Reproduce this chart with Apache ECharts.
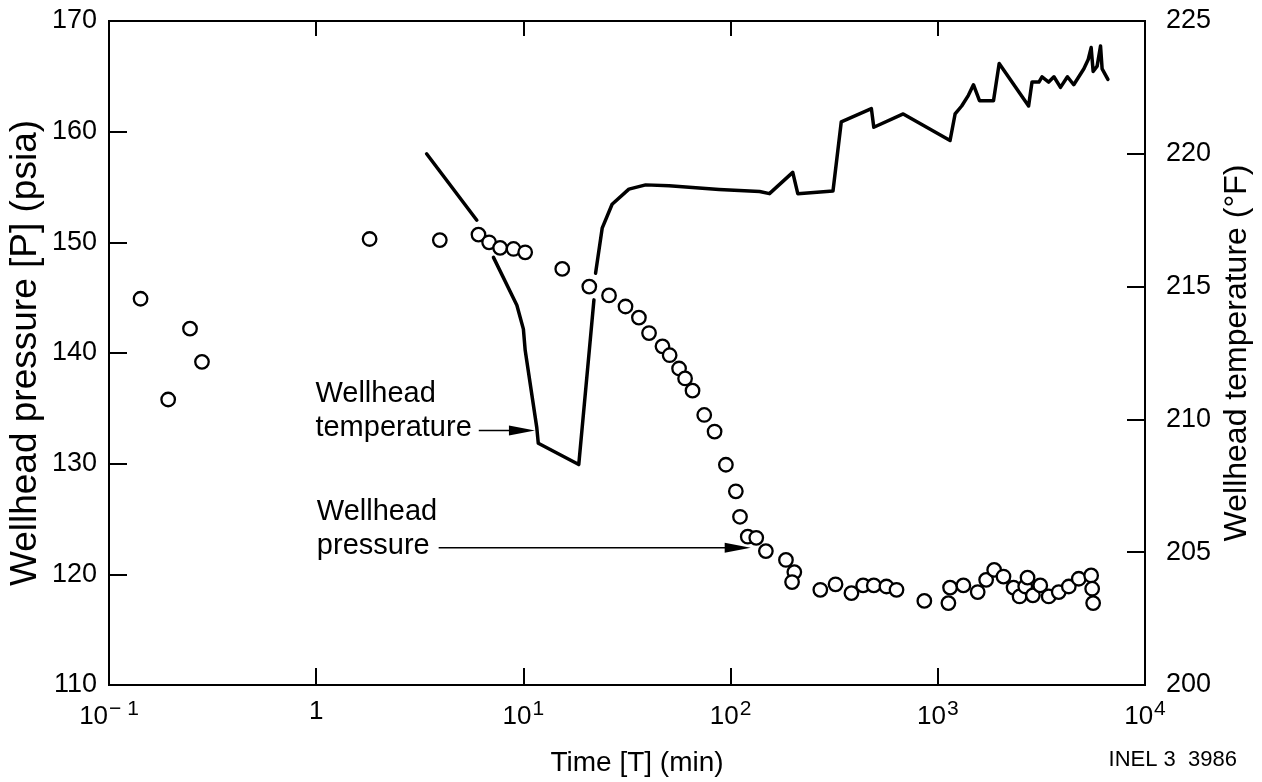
<!DOCTYPE html>
<html>
<head>
<meta charset="utf-8">
<script src="https://cdn.jsdelivr.net/npm/echarts@6/dist/echarts.min.js"></script>
<style>
html,body{margin:0;padding:0;background:#fff;}
#chart{width:1262px;height:782px;}
</style>
</head>
<body>
<div id="chart"></div>
<script>
// ---- Data ----
// Wellhead pressure (psia) vs time (min), open circles
const pressureTime = [0.142,0.193,0.246,0.281,1.81,3.95,6.07,6.83,7.72,8.96,10.2,15.4,20.8,25.9,31.1,36.1,40.4,46.9,50.8,56.4,60.3,65.5,74.6,83.7,94.9,106,111,121,133,148,185,203,198,271,321,383,436,491,565,632,861,1125,1146,1329,1558,1711,1871,2075,2321,2481,2642,2711,2877,3123,3429,3834,4288,4790,5497,5559,5620];
const pressureValue = [144.9,135.8,142.2,139.2,150.3,150.2,150.7,150.0,149.5,149.4,149.1,147.6,146.0,145.2,144.2,143.2,141.8,140.6,139.8,138.6,137.7,136.6,134.4,132.9,129.9,127.5,125.2,123.4,123.3,122.1,121.3,120.2,119.3,118.6,119.1,118.3,119.0,119.0,118.9,118.6,117.6,117.4,118.8,119.0,118.4,119.5,120.4,119.8,118.8,118.0,118.9,119.7,118.1,119.0,118.0,118.4,118.9,119.6,119.9,118.7,117.4];
// Wellhead temperature (°F) vs time (min), solid line (null = gap in the drawn line)
const tempTime = [3.41,5.96,null,7.17,9.3,10.0,10.2,11.6,11.8,18.5,20.8,21.9,null,22.3,24.0,26.8,32.3,38.9,50.5,88,138,154,199.5,211,312,342,478,491,681,1146,1212,1304,1405,1486,1589,1857,1978,2743,2849,3076,3184,3429,3635,3910,4223,4530,5070,5320,5497,5620,5875,6100,6210,6623];
const tempValue = [220.0,217.5,null,216.1,214.3,213.4,212.6,209.7,209.1,208.3,212.6,214.5,null,215.5,217.2,218.1,218.67,218.83,218.8,218.66,218.58,218.5,219.3,218.5,218.6,221.2,221.7,221.0,221.5,220.5,221.5,221.8,222.2,222.6,222.0,222.0,223.4,221.8,222.7,222.7,222.9,222.7,222.9,222.5,222.9,222.6,223.2,223.55,224.0,223.1,223.3,224.06,223.2,222.8];
// Axis tick labels
const xTickValues = [0.1,1,10,100,1000,10000];
const xTickLabels = [['10','− 1'],['1',''],['10','1'],['10','2'],['10','3'],['10','4']];
const leftTicks = [110,120,130,140,150,160,170];
const rightTicks = [200,205,210,215,220,225];
// Annotations: [text lines, arrow start (time, psia), arrow end (time, psia)]
const annotations = [
  {lines:['Wellhead','temperature'], from:[6.09,133.0], to:[11.37,133.0], gap:7},
  {lines:['Wellhead','pressure'], from:[3.9,122.4], to:[125,122.4], gap:9}
];
const footnote = 'INEL 3  3986';

const FONT = '"Liberation Sans", Arial, Helvetica, sans-serif';
const pData = pressureTime.map((t,i)=>[t,pressureValue[i]]);
const tData = tempTime.map((t,i)=> t===null ? [null,null] : [t,tempValue[i]]);

const chart = echarts.init(document.getElementById('chart'), null, {renderer:'canvas'});
const axisLineStyle = {color:'#000', width:2};
const option = {
  backgroundColor:'#fff',
  animation:false,
  textStyle:{fontFamily:FONT},
  grid:{left:109, right:117, top:21, bottom:97, show:true, borderColor:'#000', borderWidth:2, containLabel:false, outerBoundsMode:'none'},
  xAxis:[{
    type:'log', logBase:10, min:0.1, max:10000,
    position:'bottom',
    name:'Time [T] (min)', nameLocation:'middle', nameGap:64, nameMoveOverlap:false,
    nameTextStyle:{fontSize:28, color:'#000', fontFamily:FONT, padding:[0,0,0,20]},
    axisLine:{show:true, lineStyle:axisLineStyle},
    axisTick:{show:true, inside:true, length:17, lineStyle:{color:'#000', width:2}},
    splitLine:{show:false},
    minorTick:{show:false},
    axisLabel:{
      margin:14, color:'#000', fontSize:26, fontFamily:FONT,
      formatter:function(v){
        let idx = xTickValues.findIndex(x=>Math.abs(Math.log10(x)-Math.log10(v))<1e-6);
        if(idx<0) return '';
        const l = xTickLabels[idx];
        return l[1] ? '{b|'+l[0]+'}{s|'+l[1]+'}' : '{b|'+l[0]+'}';
      },
      rich:{
        b:{fontSize:26, fontFamily:FONT, color:'#000', verticalAlign:'bottom'},
        s:{fontSize:21, fontFamily:FONT, color:'#000', verticalAlign:'top', padding:[0,0,10,1]}
      }
    }
  },{
    type:'log', logBase:10, min:0.1, max:10000, position:'top',
    axisLine:{show:true, lineStyle:axisLineStyle},
    axisTick:{show:true, inside:true, length:15, lineStyle:{color:'#000', width:2}},
    axisLabel:{show:false}, splitLine:{show:false}
  }],
  yAxis:[{
    type:'value', min:leftTicks[0], max:leftTicks[leftTicks.length-1], interval:10, position:'left',
    name:'Wellhead pressure [P] (psia)', nameLocation:'middle', nameRotate:90, nameGap:65, nameMoveOverlap:false,
    nameTextStyle:{fontSize:37, color:'#000', fontFamily:FONT},
    axisLine:{show:true, lineStyle:axisLineStyle},
    axisTick:{show:true, inside:true, length:18, lineStyle:{color:'#000', width:2}},
    splitLine:{show:false},
    axisLabel:{margin:12, color:'#000', fontSize:27, fontFamily:FONT}
  },{
    type:'value', min:rightTicks[0], max:rightTicks[rightTicks.length-1], interval:5, position:'right',
    name:'Wellhead temperature (°F)', nameLocation:'middle', nameRotate:90, nameGap:76, nameMoveOverlap:false,
    nameTextStyle:{fontSize:32, color:'#000', fontFamily:FONT},
    axisLine:{show:true, lineStyle:axisLineStyle},
    axisTick:{show:true, inside:true, length:18, lineStyle:{color:'#000', width:2}},
    splitLine:{show:false},
    axisLabel:{margin:21, color:'#000', fontSize:27, fontFamily:FONT}
  }],
  series:[{
    name:'Wellhead temperature', type:'line', xAxisIndex:0, yAxisIndex:1,
    data:tData, connectNulls:false, showSymbol:false, symbol:'none',
    lineStyle:{color:'#000', width:3.5, join:'round', cap:'round'}, z:2
  },{
    name:'Wellhead pressure', type:'scatter', xAxisIndex:0, yAxisIndex:0,
    data:pData, symbol:'circle', symbolSize:13.5,
    itemStyle:{color:'#fff', borderColor:'#000', borderWidth:2.3, opacity:1}, z:3
  }]
};
chart.setOption(option);

// Annotations positioned through the chart's own scales
function px(pt){ return chart.convertToPixel({xAxisIndex:0, yAxisIndex:0}, pt); }
const ANN_FONT = '29px ' + FONT;
const ctx = document.createElement('canvas').getContext('2d');
ctx.font = ANN_FONT;
const graphics = [];
annotations.forEach(a=>{
  const p0 = px(a.from), p1 = px(a.to);
  const headLen = 26, headW = 5;
  const textRight = p0[0] - a.gap;
  const w = ctx.measureText(a.lines[1]).width;
  graphics.push({type:'line', shape:{x1:p0[0], y1:p0[1], x2:p1[0]-headLen+2, y2:p1[1]}, style:{stroke:'#000', lineWidth:1.6}, z:10});
  graphics.push({type:'polygon', shape:{points:[[p1[0],p1[1]],[p1[0]-headLen,p1[1]-headW],[p1[0]-headLen,p1[1]+headW]]}, style:{fill:'#000'}, z:10});
  graphics.push({type:'text', x:textRight, y:p0[1]-2, style:{text:a.lines[1], font:ANN_FONT, fill:'#000', align:'right', verticalAlign:'middle'}, z:10});
  graphics.push({type:'text', x:textRight - w, y:p0[1]-36, style:{text:a.lines[0], font:ANN_FONT, fill:'#000', align:'left', verticalAlign:'middle'}, z:10});
});
graphics.push({type:'text', right:25, top:749, style:{text:footnote, font:'22px '+FONT, fill:'#000'}});
chart.setOption({graphic:graphics});
</script>
</body>
</html>
